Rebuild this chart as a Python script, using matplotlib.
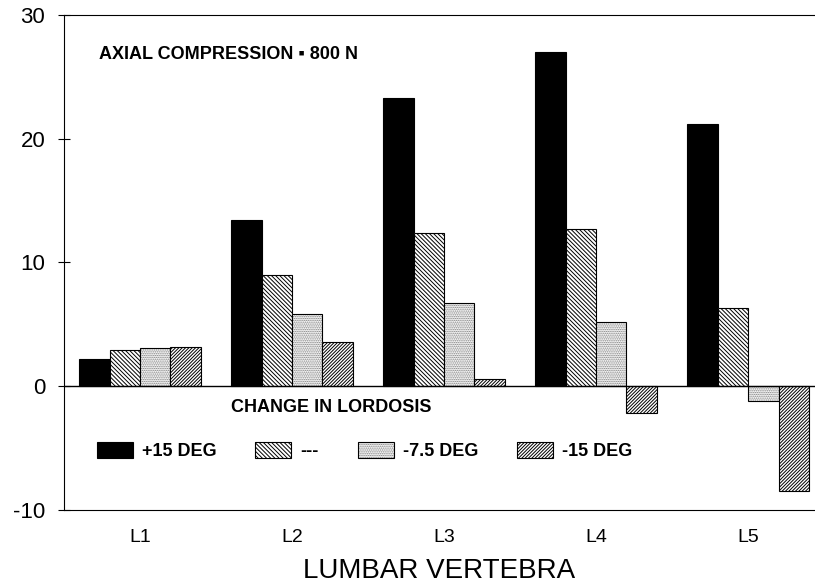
import numpy as np
import matplotlib
matplotlib.use('Agg')
import matplotlib.pyplot as plt
from matplotlib.patches import Patch

plt.rcParams['font.family'] = ['Liberation Sans', 'DejaVu Sans']
plt.rcParams['hatch.linewidth'] = 0.7
plt.rcParams['axes.unicode_minus'] = False

# data
vertebrae = ['L1', 'L2', 'L3', 'L4', 'L5']
series_names = ['+15 DEG', '---', '-7.5 DEG', '-15 DEG']
plus15 = [2.2, 13.4, 23.3, 27.0, 21.2]
zero = [2.95, 8.95, 12.4, 12.7, 6.35]
minus7_5 = [3.05, 5.8, 6.7, 5.2, -1.2]
minus15 = [3.2, 3.55, 0.55, -2.2, -8.5]
y_ticks = [-10, 0, 10, 20, 30]

values = [plus15, zero, minus7_5, minus15]
hatches = [None, '\\' * 8, '.' * 9, '/' * 10]
faces = ['black', 'white', 'white', 'white']
hatch_cols = ['black', 'black', '#777777', 'black']

fig = plt.figure(figsize=(8.15, 5.88), dpi=100)
ax = fig.add_axes([0.0785, 0.1327, 0.9215, 0.8418])

x = np.arange(len(vertebrae))
w = 0.2
handles = []
for i, vals in enumerate(values):
    pos = x + (i - 1.5) * w
    outline = Patch(fill=False, edgecolor='black', linewidth=0.8)
    if hatches[i] is None:
        ax.bar(pos, vals, w, color=faces[i], edgecolor='black', linewidth=0.8)
        handles.append(Patch(facecolor='black', edgecolor='black', linewidth=0.8))
    else:
        ax.bar(pos, vals, w, color=faces[i], edgecolor=hatch_cols[i],
               hatch=hatches[i], linewidth=0)
        ax.bar(pos, vals, w, fill=False, edgecolor='black', linewidth=0.8)
        fillp = Patch(facecolor='white', edgecolor=hatch_cols[i],
                      hatch=hatches[i], linewidth=0)
        handles.append((fillp, outline))

ax.axhline(0, color='black', linewidth=1.0)
ax.set_xlim(-0.5, 4.44)
ax.set_ylim(-10, 30)
ax.set_yticks(y_ticks)
ax.set_xticks(x)
ax.set_xticklabels(vertebrae, fontsize=14)
ax.tick_params(axis='y', direction='inout', length=9, width=0.8, labelsize=16, pad=9)
ax.tick_params(axis='x', length=0, pad=14)
ax.spines['right'].set_visible(False)
for s in ['left', 'top', 'bottom']:
    ax.spines[s].set_linewidth(0.8)

ax.set_xlabel('LUMBAR VERTEBRA', fontsize=20, labelpad=8)

ax.text(0.047, 0.92, 'AXIAL COMPRESSION \u25aa 800 N', transform=ax.transAxes,
        fontsize=13, fontweight='bold', va='center')
ax.text(0.222, 0.208, 'CHANGE IN LORDOSIS', transform=ax.transAxes,
        fontsize=13, fontweight='bold', va='center')

ax.legend(handles, series_names, ncol=4, loc='center left',
          bbox_to_anchor=(0.022, 0.119), frameon=False,
          prop={'size': 13, 'weight': 'bold'},
          handlelength=2.0, handleheight=0.95, handletextpad=0.5,
          columnspacing=2.15)

plt.savefig('out.png', dpi=100)
